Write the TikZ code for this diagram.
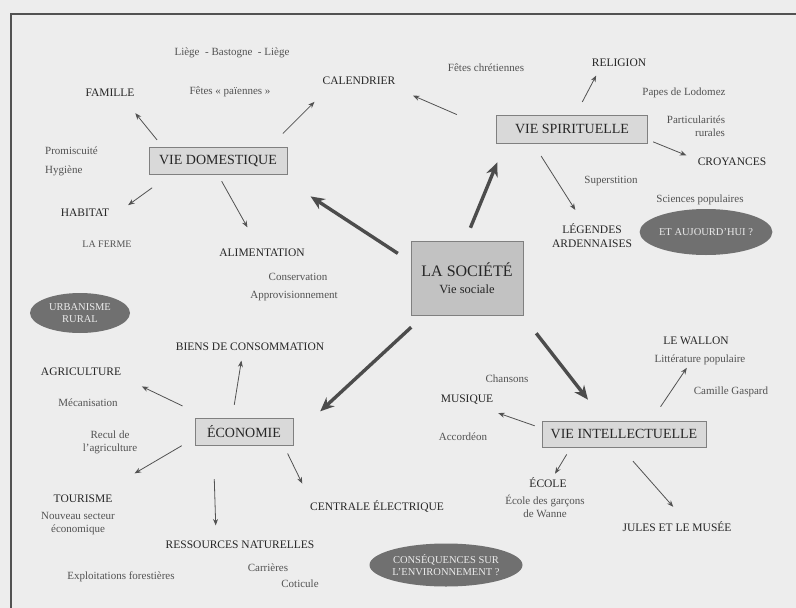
\documentclass[tikz,border=0pt]{standalone}
\usepackage{fontspec}
\setmainfont{Liberation Serif}
\usetikzlibrary{arrows.meta,positioning,shapes.geometric}

\begin{document}
\begin{tikzpicture}[
  x=1pt,y=-1pt,
  font=\fontsize{11}{13}\selectfont,
  pole/.style={draw=black!50,fill=black!15,text=black!85,font=\fontsize{14}{16}\selectfont,minimum height=27pt,inner sep=2pt},
  theme/.style={text=black!85,inner sep=1pt,align=center,font=\fontsize{11.5}{14}\selectfont},
  detail/.style={text=black!68,inner sep=1pt,align=center},
  bulle/.style={ellipse,fill=black!56,text=black!8,align=center,inner sep=0pt,font=\fontsize{10.5}{12}\selectfont},
  ar/.style={draw=black!68,line width=0.8pt,-{Stealth[length=6.5pt,width=5pt]}},
  gros/.style={draw=black!70,line width=3.4pt,-{Stealth[length=14pt,width=12pt]}}
]
\useasboundingbox (0,0) rectangle (796,608);
\fill[black!7] (0,0) rectangle (796,608);
\draw[black!68,line width=1.8pt] (796,14) -| (11,608);

% centre and the four poles
\node[pole,fill=black!24,minimum width=112pt,minimum height=74pt,align=center] (soc) at (467,278) {{\fontsize{16}{18}\selectfont LA SOCIÉTÉ}\\[1pt]{\fontsize{12.5}{14}\selectfont Vie sociale}};
\node[pole,minimum width=138pt] (vd) at (218,161) {VIE DOMESTIQUE};
\node[pole,minimum width=151pt,minimum height=28pt] (vs) at (572,129) {VIE SPIRITUELLE};
\node[pole,minimum width=98pt] (eco) at (244,432) {ÉCONOMIE};
\node[pole,minimum width=164pt,minimum height=26pt] (vi) at (624,434) {VIE INTELLECTUELLE};

% vie domestique
\node[detail] (lbl) at (232,53) {Liège \ - Bastogne \ - Liège};
\node[theme] (fam) at (110,93) {FAMILLE};
\node[detail] (fpai) at (230,92) {Fêtes «~païennes~»};
\node[theme] (cal) at (359,81) {CALENDRIER};
\node[detail,anchor=west] (prom) at (44,151) {Promiscuité};
\node[detail,anchor=west] (hyg) at (44,171) {Hygiène};
\node[theme] (hab) at (85,213) {HABITAT};
\node[detail,font=\fontsize{10}{12}\selectfont] (ferme) at (107,244) {LA FERME};
\node[theme] (alim) at (262,253) {ALIMENTATION};
\node[detail] (cons) at (298,277) {Conservation};
\node[detail] (appro) at (294,296) {Approvisionnement};
\node[bulle,minimum width=100pt,minimum height=40pt] (urb) at (80,313) {URBANISME\\RURAL};

% vie spirituelle
\node[detail] (fchr) at (486,68) {Fêtes chrétiennes};
\node[theme] (rel) at (619,63) {RELIGION};
\node[detail] (papes) at (684,93) {Papes de Lodomez};
\node[detail,align=right] (part) at (696,126) {Particularités\\rurales};
\node[theme] (croy) at (732,162) {CROYANCES};
\node[detail] (sup) at (611,181) {Superstition};
\node[detail] (scpop) at (700,200) {Sciences populaires};
\node[theme] (leg) at (592,236) {LÉGENDES\\ARDENNAISES};
\node[bulle,minimum width=118pt,minimum height=46pt] (auj) at (706,232) {ET AUJOURD'HUI ?};

% economie
\node[theme] (biens) at (250,347) {BIENS DE CONSOMMATION};
\node[theme] (agri) at (81,372) {AGRICULTURE};
\node[detail] (meca) at (88,403) {Mécanisation};
\node[detail] (recul) at (110,442) {Recul de\\l'agriculture};
\node[theme] (tour) at (83,499) {TOURISME};
\node[detail] (nouv) at (78,524) {Nouveau secteur\\économique};
\node[theme] (ress) at (240,545) {RESSOURCES NATURELLES};
\node[detail] (expl) at (121,577) {Exploitations forestières};
\node[detail] (carr) at (268,568) {Carrières};
\node[detail] (coti) at (300,584) {Coticule};
\node[theme] (cent) at (377,506) {CENTRALE ÉLECTRIQUE};
\node[bulle,minimum width=153pt,minimum height=43pt] (envi) at (446,565) {CONSÉQUENCES SUR\\L'ENVIRONNEMENT ?};

% vie intellectuelle
\node[detail] (chan) at (507,379) {Chansons};
\node[theme] (mus) at (467,400) {MUSIQUE};
\node[detail] (acc) at (463,437) {Accordéon};
\node[theme] (wal) at (696,341) {LE WALLON};
\node[detail] (litt) at (700,360) {Littérature populaire};
\node[detail] (cam) at (731,392) {Camille Gaspard};
\node[theme] (ecole) at (548,483) {ÉCOLE};
\node[detail] (egar) at (545,506) {École des garçons\\de Wanne};
\node[theme] (jules) at (677,527) {JULES ET LE MUSÉE};

% gros fleches
\draw[gros,shorten <=15.5pt,shorten >=39.7pt] (soc.164.4) -- (vd.-13.4);
\draw[gros,shorten <=14.1pt,shorten >=20.7pt] (soc.93.9) -- (vs.192);
\draw[gros,shorten <=17.7pt,shorten >=36.8pt] (soc.221.4) -- (eco.-5.8);
\draw[gros,shorten <=22.9pt,shorten >=26.8pt] (soc.-34.5) -- (vi.146.2);

% fleches fines
\draw[ar,shorten <=9.5pt,shorten >=19.5pt] (vd.166.5) -- (fam.-21.3);
\draw[ar,shorten <=19.4pt,shorten >=22.3pt] (vd.15.7) -- (cal.190.4);
\draw[ar,shorten <=22.3pt,shorten >=22pt] (vd.196.6) -- (hab.south east);
\draw[ar,shorten <=7.5pt,shorten >=23.6pt] (vd.south) -- (alim.121.7);
\draw[ar,shorten <=43pt,shorten >=24pt] (vs.182.3) -- (cal.-9.75);
\draw[ar,shorten <=14.5pt,shorten >=8.4pt] (vs.76) -- (rel.195.2);
\draw[ar,shorten <=5.9pt,shorten >=11pt] (vs.-8.9) -- (croy.176.8);
\draw[ar,shorten <=15.2pt,shorten >=15.2pt] (vs.200.8) -- (leg.123.3);
\draw[ar,shorten <=13.7pt,shorten >=8.6pt] (eco.131.9) -- (biens.215.9);
\draw[ar,shorten <=28.6pt,shorten >=21.7pt] (eco.159.6) -- (agri.south east);
\draw[ar,shorten <=15.1pt,shorten >=40.6pt] (eco.187.4) -- (tour.17);
\draw[ar,shorten <=33.5pt,shorten >=14.5pt] (eco.204.2) -- (ress.168);
\draw[ar,shorten <=8.7pt,shorten >=17pt] (eco.-19.8) -- (cent.174.9);
\draw[ar,shorten <=7.5pt,shorten >=21.7pt] (vi.176.9) -- (mus.-29.8);
\draw[ar,shorten <=17pt,shorten >=26.2pt] (vi.26.3) -- (wal.-43);
\draw[ar,shorten <=8.4pt,shorten >=3.6pt] (vi.194.2) -- (ecole.50);
\draw[ar,shorten <=18.6pt,shorten >=18.6pt] (vi.256.2) -- (jules.36.2);
\end{tikzpicture}
\end{document}
